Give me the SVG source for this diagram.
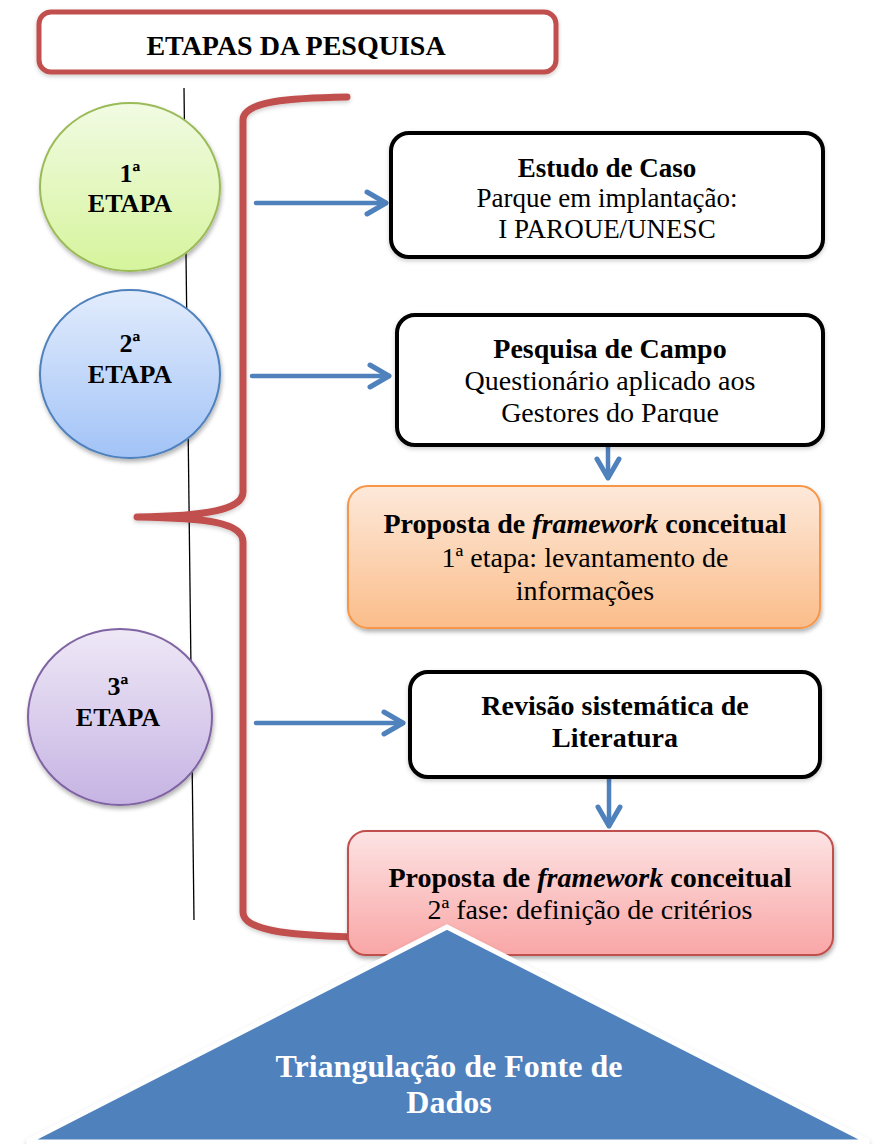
<svg xmlns="http://www.w3.org/2000/svg" width="885" height="1144" viewBox="0 0 885 1144">
  <defs>
    <style>
      text { font-family: 'Liberation Serif', 'Times New Roman', serif; fill: #000; text-anchor: middle; }
      .b { font-weight: bold; }
      .box { fill: #fff; stroke: #000; stroke-width: 4; }
      .flow { fill: none; stroke: #4f81bd; stroke-width: 4.5; stroke-linecap: round; }
      .brace { fill: none; stroke: #c0504d; stroke-width: 7; stroke-linecap: round; stroke-linejoin: round; }
    </style>
    <linearGradient id="gGreen" x1="0" y1="0" x2="0" y2="1">
      <stop offset="0" stop-color="#f1fbe3"/>
      <stop offset="1" stop-color="#d6f49c"/>
    </linearGradient>
    <linearGradient id="gBlue" x1="0" y1="0" x2="0" y2="1">
      <stop offset="0" stop-color="#e2ecfc"/>
      <stop offset="1" stop-color="#a2c3f7"/>
    </linearGradient>
    <linearGradient id="gPurple" x1="0" y1="0" x2="0" y2="1">
      <stop offset="0" stop-color="#eee8f6"/>
      <stop offset="1" stop-color="#c6b3e3"/>
    </linearGradient>
    <linearGradient id="gOrange" x1="0" y1="0" x2="0" y2="1">
      <stop offset="0" stop-color="#fde9da"/>
      <stop offset="1" stop-color="#fbbd8a"/>
    </linearGradient>
    <linearGradient id="gRed" x1="0" y1="0" x2="0" y2="1">
      <stop offset="0" stop-color="#fde3e3"/>
      <stop offset="1" stop-color="#f9a6a6"/>
    </linearGradient>
    <filter id="shadow" x="-10%" y="-10%" width="125%" height="130%">
      <feDropShadow dx="1" dy="3" stdDeviation="2" flood-color="#000" flood-opacity="0.3"/>
    </filter>
    <filter id="softShadow" x="-10%" y="-10%" width="125%" height="130%">
      <feDropShadow dx="0" dy="2" stdDeviation="2" flood-color="#000" flood-opacity="0.2"/>
    </filter>
    <marker id="chev" viewBox="-26 -15 30 30" refX="0" refY="0" markerWidth="30" markerHeight="30" markerUnits="userSpaceOnUse" orient="auto">
      <path d="M-19,-11 L0,0 L-19,11" fill="none" stroke="#4f81bd" stroke-width="5" stroke-linecap="round" stroke-linejoin="round"/>
    </marker>
    <clipPath id="clipBox1"><rect x="391" y="133" width="432" height="105"/></clipPath>
    <clipPath id="clipBox2"><rect x="397" y="315" width="426" height="108"/></clipPath>
  </defs>

  <rect width="885" height="1144" fill="#fff"/>

  <!-- title banner -->
  <g id="title">
    <rect x="39" y="12" width="517" height="60" rx="12" fill="#fff" stroke="#c0504d" stroke-width="5" filter="url(#softShadow)"/>
    <text class="b" x="296" y="55" font-size="28">ETAPAS DA PESQUISA</text>
  </g>

  <!-- timeline axis -->
  <line x1="184" y1="88" x2="194" y2="920" stroke="#000" stroke-width="1.3"/>

  <!-- stage circles -->
  <g id="etapa1">
    <ellipse cx="130" cy="187" rx="90" ry="84" fill="url(#gGreen)" stroke="#9bbb59" stroke-width="2" filter="url(#shadow)"/>
    <text class="b" x="130" y="182" font-size="26">1ª</text>
    <text class="b" x="130" y="212" font-size="26">ETAPA</text>
  </g>
  <g id="etapa2">
    <ellipse cx="130" cy="374" rx="90" ry="84" fill="url(#gBlue)" stroke="#4f81bd" stroke-width="2" filter="url(#shadow)"/>
    <text class="b" x="130" y="352" font-size="26">2ª</text>
    <text class="b" x="130" y="383" font-size="26">ETAPA</text>
  </g>
  <g id="etapa3">
    <ellipse cx="120" cy="717" rx="92" ry="88" fill="url(#gPurple)" stroke="#8064a2" stroke-width="2" filter="url(#shadow)"/>
    <text class="b" x="118" y="695" font-size="26">3ª</text>
    <text class="b" x="118" y="726" font-size="26">ETAPA</text>
  </g>

  <!-- curly brace grouping the stages -->
  <path class="brace" filter="url(#softShadow)" d="M347,97 C290,98 243,101 243,120 L243,492 C243,510 205,516 137,517 C205,518 243,522 243,542 L243,912 C243,930 285,935 352,937"/>

  <!-- connectors -->
  <g id="connectors">
    <line class="flow" x1="256" y1="203" x2="386" y2="203" marker-end="url(#chev)"/>
    <line class="flow" x1="252" y1="376" x2="389" y2="376" marker-end="url(#chev)"/>
    <line class="flow" x1="256" y1="723" x2="403" y2="723" marker-end="url(#chev)"/>
    <line class="flow" x1="608" y1="444" x2="608" y2="478" marker-end="url(#chev)"/>
    <line class="flow" x1="609" y1="779" x2="609" y2="826" marker-end="url(#chev)"/>
  </g>

  <!-- step boxes -->
  <g id="estudoCaso">
    <rect class="box" x="391" y="133" width="432" height="124" rx="18" filter="url(#softShadow)"/>
    <g clip-path="url(#clipBox1)">
      <text class="b" x="607" y="177" font-size="27">Estudo de Caso</text>
      <text x="607" y="207" font-size="27">Parque em implantação:</text>
      <text x="607" y="238" font-size="27">I PARQUE/UNESC</text>
    </g>
  </g>

  <g id="pesquisaCampo">
    <rect class="box" x="397" y="315" width="426" height="130" rx="18" filter="url(#softShadow)"/>
    <g clip-path="url(#clipBox2)">
      <text class="b" x="610" y="358" font-size="28">Pesquisa de Campo</text>
      <text x="610" y="390" font-size="28">Questionário aplicado aos</text>
      <text x="610" y="422" font-size="28">Gestores do Parque</text>
    </g>
  </g>

  <g id="framework1">
    <rect x="348" y="486" width="472" height="142" rx="20" fill="url(#gOrange)" stroke="#f79646" stroke-width="2" filter="url(#shadow)"/>
    <text class="b" x="585" y="533" font-size="28">Proposta de <tspan font-style="italic">framework</tspan> conceitual</text>
    <text x="585" y="567" font-size="28">1ª etapa: levantamento de</text>
    <text x="585" y="600" font-size="28">informações</text>
  </g>

  <g id="revisao">
    <rect class="box" x="410" y="672" width="410" height="105" rx="18" filter="url(#softShadow)"/>
    <text class="b" x="615" y="715" font-size="28">Revisão sistemática de</text>
    <text class="b" x="615" y="747" font-size="28">Literatura</text>
  </g>

  <g id="framework2">
    <rect x="348" y="831" width="485" height="124" rx="18" fill="url(#gRed)" stroke="#c0504d" stroke-width="2" filter="url(#shadow)"/>
    <text class="b" x="590" y="887" font-size="28">Proposta de <tspan font-style="italic">framework</tspan> conceitual</text>
    <text x="590" y="919" font-size="28">2ª fase: definição de critérios</text>
  </g>

  <!-- data source triangulation -->
  <g id="triangulacao">
    <polygon points="447,927 27,1142 869,1142" fill="#4f81bd" stroke="#fff" stroke-width="5" stroke-linejoin="miter" filter="url(#softShadow)"/>
    <text class="b" x="449" y="1077" font-size="32" style="fill:#fff">Triangulação de Fonte de</text>
    <text class="b" x="449" y="1113" font-size="32" style="fill:#fff">Dados</text>
  </g>
</svg>
